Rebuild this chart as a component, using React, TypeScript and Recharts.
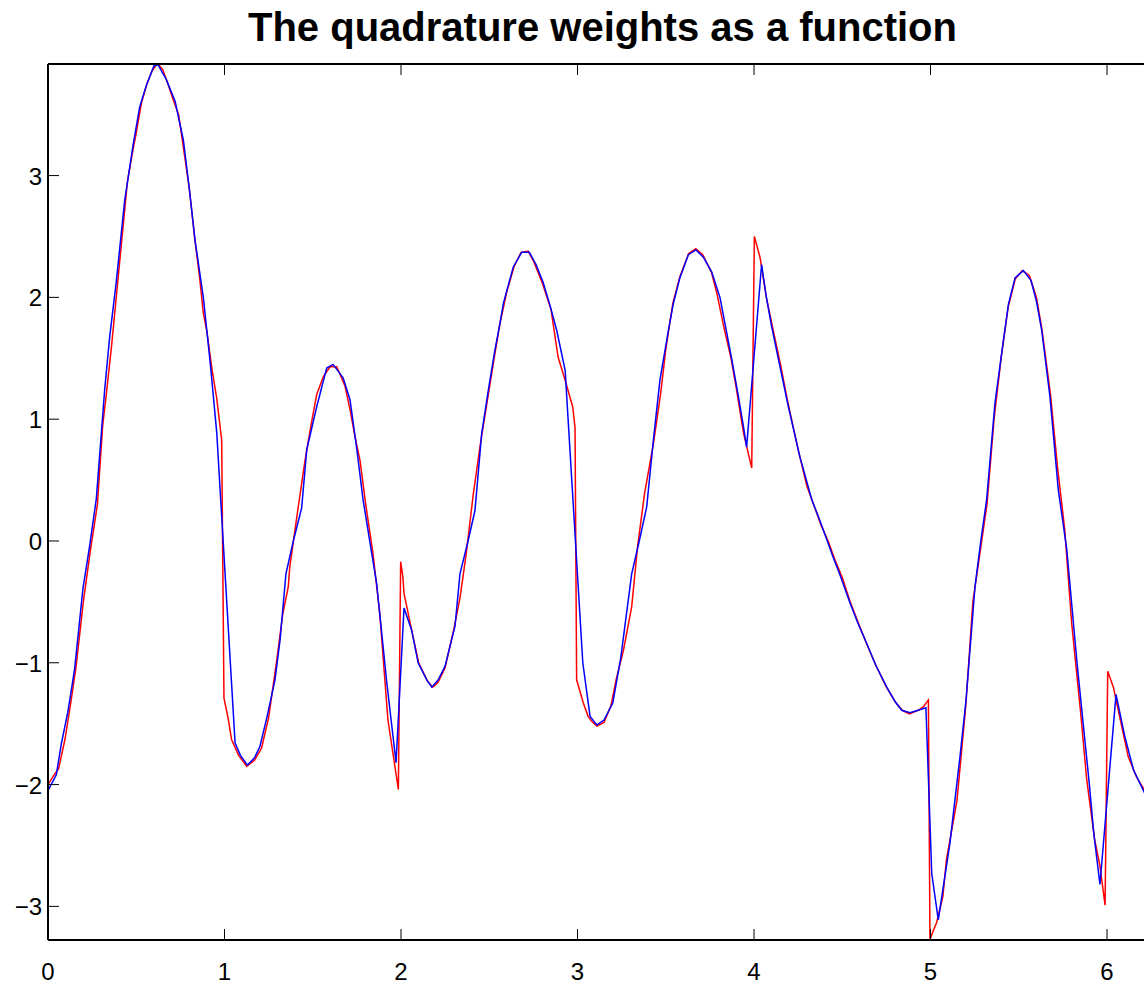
import { LineChart, Line, XAxis, YAxis } from 'recharts';

// Blue series: coarser sampling
const blueX = [
  0, 0.047, 0.075, 0.113, 0.151, 0.198, 0.236, 0.274, 0.321, 0.349, 0.387, 0.434, 0.482, 0.519, 0.557, 0.6,
  0.623, 0.67, 0.72, 0.767, 0.8, 0.833, 0.88, 0.92, 0.956, 1.06, 1.09, 1.13, 1.17, 1.2, 1.24, 1.286, 1.315,
  1.348, 1.39, 1.437, 1.466, 1.522, 1.579, 1.615, 1.672, 1.711, 1.75, 1.785, 1.825, 1.862, 1.92, 1.972, 2.017,
  2.06, 2.097, 2.146, 2.174, 2.211, 2.249, 2.306, 2.334, 2.38, 2.419, 2.457, 2.495, 2.53, 2.561, 2.58, 2.636,
  2.684, 2.727, 2.765, 2.806, 2.845, 2.882, 2.93, 3.03, 3.071, 3.11, 3.15, 3.2, 3.245, 3.307, 3.35, 3.392,
  3.43, 3.467, 3.515, 3.543, 3.58, 3.628, 3.671, 3.713, 3.76, 3.807, 3.84, 3.874, 3.91, 3.94, 3.958, 4.043,
  4.07, 4.1, 4.14, 4.195, 4.26, 4.327, 4.37, 4.41, 4.45, 4.49, 4.544, 4.59, 4.638, 4.69, 4.752, 4.8, 4.837,
  4.884, 4.93, 4.974, 5.007, 5.044, 5.11, 5.167, 5.201, 5.252, 5.285, 5.318, 5.365, 5.403, 5.441, 5.479,
  5.526, 5.569, 5.6, 5.63, 5.677, 5.724, 5.772, 5.83, 5.9, 5.925, 5.96, 6.051, 6.1, 6.15, 6.21, 6.23,
];
const blueY = [
  -2.05, -1.92, -1.67, -1.4, -1.05, -0.39, -0.04, 0.35, 1.24, 1.67, 2.13, 2.79, 3.25, 3.56, 3.74, 3.9,
  3.91, 3.79, 3.61, 3.29, 2.9, 2.47, 2.0, 1.45, 0.89, -1.66, -1.76, -1.84, -1.78, -1.69, -1.45, -1.14, -0.81,
  -0.27, 0.0, 0.27, 0.75, 1.1, 1.42, 1.45, 1.34, 1.16, 0.75, 0.34, -0.02, -0.35, -1.17, -1.82, -0.55,
  -0.73, -1.0, -1.14, -1.2, -1.14, -1.03, -0.7, -0.27, 0.0, 0.25, 0.88, 1.24, 1.55, 1.79, 1.95, 2.25,
  2.37, 2.37, 2.27, 2.12, 1.93, 1.73, 1.4, -1.0, -1.44, -1.51, -1.47, -1.33, -0.96, -0.27, 0.0, 0.28,
  0.83, 1.32, 1.73, 1.95, 2.16, 2.35, 2.39, 2.33, 2.21, 2.0, 1.75, 1.49, 1.2, 0.94, 0.77, 2.27,
  2.0, 1.76, 1.48, 1.1, 0.69, 0.34, 0.18, 0.02, -0.14, -0.29, -0.51, -0.68, -0.84, -1.02, -1.2, -1.32, -1.39,
  -1.41, -1.39, -1.37, -2.73, -3.11, -2.48, -1.77, -1.31, -0.375, 0.0, 0.34, 1.13, 1.54, 1.94, 2.16,
  2.22, 2.14, 1.97, 1.73, 1.18, 0.42, -0.07, -1.0, -2.0, -2.4, -2.82, -1.26, -1.6, -1.88, -2.06, -2.12,
];

// Red series: finer sampling, sharper jumps
const redX = [
  0, 0.03, 0.06, 0.096, 0.13, 0.16, 0.2, 0.24, 0.28, 0.31, 0.33, 0.36, 0.39, 0.42, 0.45, 0.48, 0.5, 0.53,
  0.56, 0.59, 0.62, 0.65, 0.68, 0.71, 0.74, 0.77, 0.8, 0.83, 0.86, 0.88, 0.9, 0.93, 0.956, 0.984, 0.997,
  1.02, 1.04, 1.08, 1.126, 1.17, 1.21, 1.25, 1.296, 1.33, 1.361, 1.37, 1.41, 1.456, 1.49, 1.522, 1.56, 1.598,
  1.636, 1.683, 1.711, 1.74, 1.768, 1.8, 1.841, 1.88, 1.926, 1.985, 1.998, 2.011, 2.017, 2.06, 2.1, 2.15,
  2.18, 2.21, 2.25, 2.3, 2.334, 2.37, 2.41, 2.45, 2.5, 2.53, 2.56, 2.6, 2.64, 2.68, 2.72, 2.75, 2.8, 2.85,
  2.89, 2.93, 2.973, 2.986, 2.995, 3.033, 3.06, 3.08, 3.11, 3.15, 3.19, 3.22, 3.26, 3.307, 3.34, 3.38, 3.43,
  3.47, 3.5, 3.54, 3.58, 3.63, 3.67, 3.71, 3.76, 3.79, 3.83, 3.87, 3.9, 3.94, 3.987, 4.002, 4.034, 4.07,
  4.1, 4.15, 4.19, 4.25, 4.3, 4.33, 4.38, 4.42, 4.46, 4.5, 4.545, 4.59, 4.64, 4.69, 4.75, 4.8, 4.84, 4.88,
  4.93, 4.96, 4.988, 4.997, 5.035, 5.07, 5.09, 5.15, 5.2, 5.24, 5.28, 5.32, 5.36, 5.4, 5.44, 5.48, 5.52,
  5.56, 5.6, 5.63, 5.68, 5.72, 5.76, 5.8, 5.85, 5.885, 5.93, 5.96, 5.989, 6.004, 6.036, 6.08, 6.12, 6.168,
  6.21, 6.23,
];
const redY = [
  -2.0, -1.93, -1.87, -1.63, -1.32, -1.02, -0.5, -0.08, 0.3, 0.95, 1.2, 1.6, 2.05, 2.5, 2.95, 3.2, 3.35, 3.6,
  3.75, 3.86, 3.92, 3.87, 3.75, 3.62, 3.5, 3.2, 2.9, 2.5, 2.15, 1.87, 1.72, 1.4, 1.17, 0.83, -1.29,
  -1.45, -1.63, -1.76, -1.85, -1.8, -1.7, -1.45, -0.98, -0.6, -0.38, -0.21, 0.2, 0.66, 0.95, 1.2, 1.35, 1.43,
  1.43, 1.27, 1.08, 0.85, 0.66, 0.3, -0.1, -0.6, -1.47, -2.04, -0.17, -0.3, -0.43, -0.73, -1.0, -1.15,
  -1.2, -1.16, -1.04, -0.72, -0.47, -0.1, 0.39, 0.8, 1.25, 1.52, 1.78, 2.05, 2.25, 2.37, 2.38, 2.3, 2.12, 1.9,
  1.51, 1.32, 1.1, 0.93, -1.14, -1.33, -1.44, -1.48, -1.52, -1.49, -1.35, -1.13, -0.9, -0.54, -0.05, 0.39, 0.8,
  1.2, 1.57, 1.95, 2.17, 2.36, 2.4, 2.35, 2.2, 2.03, 1.75, 1.5, 1.25, 0.89, 0.6, 2.5, 2.33, 2.0,
  1.79, 1.45, 1.15, 0.75, 0.45, 0.33, 0.13, 0.0, -0.16, -0.3, -0.5, -0.67, -0.85, -1.02, -1.2, -1.32, -1.39, -1.42,
  -1.39, -1.36, -1.305, -3.27, -3.13, -2.92, -2.62, -2.13, -1.35, -0.5, -0.1, 0.3, 1.0, 1.5, 1.92, 2.15, 2.22,
  2.18, 2.0, 1.75, 1.2, 0.6, 0.1, -0.68, -1.4, -1.96, -2.45, -2.67, -2.99, -1.07, -1.2, -1.5, -1.77, -1.94,
  -2.04, -2.1,
];

const xTicks = [0, 1, 2, 3, 4, 5, 6];
const yTicks = [-3, -2, -1, 0, 1, 2, 3];

const X_MAX = 2 * Math.PI;
const Y_MIN = -3.276;
const Y_MAX = 3.916;

const zip = (xs: number[], ys: number[]) => xs.map((x, i) => ({ x, y: ys[i] }));
const blueData = zip(blueX, blueY);
const redData = zip(redX, redY);

const FONT = '"Liberation Sans", Arial, Helvetica, sans-serif';
const TICK_FONT_SIZE = 24;
const TICK_LEN = 10;

const fmt = (v: number) => (v < 0 ? `\u2212${Math.abs(v)}` : `${v}`);

// Axis sizes are 1px; tick coords arrive at the outer edge of the axis band
const BottomTick = (props: any) => {
  const { x, y, payload } = props;
  const ay = y - 1;
  return (
    <g>
      <line x1={x} x2={x} y1={ay} y2={ay - TICK_LEN} stroke="#000" strokeWidth={1} />
      <text x={x} y={ay + 41} textAnchor="middle" fontFamily={FONT} fontSize={TICK_FONT_SIZE} fill="#000">
        {fmt(payload.value)}
      </text>
    </g>
  );
};

const TopTick = (props: any) => {
  const { x, y } = props;
  const ay = y + 1;
  return <line x1={x} x2={x} y1={ay} y2={ay + TICK_LEN} stroke="#000" strokeWidth={1} />;
};

const LeftTick = (props: any) => {
  const { x, y, payload } = props;
  const ax = x + 1;
  return (
    <g>
      <line x1={ax} x2={ax + TICK_LEN} y1={y} y2={y} stroke="#000" strokeWidth={1} />
      <text x={ax - 7} y={y + 9} textAnchor="end" fontFamily={FONT} fontSize={TICK_FONT_SIZE} fill="#000">
        {fmt(payload.value)}
      </text>
    </g>
  );
};

const RightTick = (props: any) => {
  const { x, y } = props;
  const ax = x - 1;
  return <line x1={ax} x2={ax - TICK_LEN} y1={y} y2={y} stroke="#000" strokeWidth={1} />;
};

const axisLine = { stroke: '#000', strokeWidth: 2 };

export default function App() {
  return (
    <div
      style={{
        position: 'absolute',
        left: 0,
        top: 0,
        width: 1144,
        height: 985,
        overflow: 'hidden',
        background: '#fff',
      }}
    >
      <div
        style={{
          position: 'absolute',
          left: 0,
          top: 7,
          width: 1205,
          textAlign: 'center',
          fontFamily: FONT,
          fontWeight: 'bold',
          fontSize: 40,
          lineHeight: '40px',
          color: '#000',
          whiteSpace: 'nowrap',
        }}
      >
        The quadrature weights as a function
      </div>
      <LineChart width={1180} height={985} margin={{ top: 63, right: 22, bottom: 44, left: 47 }}>
        <XAxis
          xAxisId="bottom"
          type="number"
          dataKey="x"
          orientation="bottom"
          domain={[0, X_MAX]}
          ticks={xTicks}
          interval={0}
          allowDataOverflow
          height={1}
          tickSize={0}
          tickMargin={0}
          axisLine={axisLine}
          tickLine={false}
          tick={BottomTick}
        />
        <XAxis
          xAxisId="top"
          type="number"
          dataKey="x"
          orientation="top"
          domain={[0, X_MAX]}
          ticks={xTicks}
          interval={0}
          allowDataOverflow
          height={1}
          tickSize={0}
          tickMargin={0}
          axisLine={axisLine}
          tickLine={false}
          tick={TopTick}
        />
        <YAxis
          yAxisId="left"
          type="number"
          orientation="left"
          domain={[Y_MIN, Y_MAX]}
          ticks={yTicks}
          interval={0}
          allowDataOverflow
          width={1}
          tickSize={0}
          tickMargin={0}
          axisLine={axisLine}
          tickLine={false}
          tick={LeftTick}
        />
        <YAxis
          yAxisId="right"
          type="number"
          orientation="right"
          domain={[Y_MIN, Y_MAX]}
          ticks={yTicks}
          interval={0}
          allowDataOverflow
          width={1}
          tickSize={0}
          tickMargin={0}
          axisLine={axisLine}
          tickLine={false}
          tick={RightTick}
        />
        <Line
          xAxisId="bottom"
          yAxisId="left"
          data={redData}
          dataKey="y"
          type="linear"
          stroke="#ff0000"
          strokeWidth={1.5}
          dot={false}
          activeDot={false}
          isAnimationActive={false}
        />
        <Line
          xAxisId="bottom"
          yAxisId="left"
          data={blueData}
          dataKey="y"
          type="linear"
          stroke="#0000ff"
          strokeWidth={1.5}
          dot={false}
          activeDot={false}
          isAnimationActive={false}
        />
      </LineChart>
    </div>
  );
}
